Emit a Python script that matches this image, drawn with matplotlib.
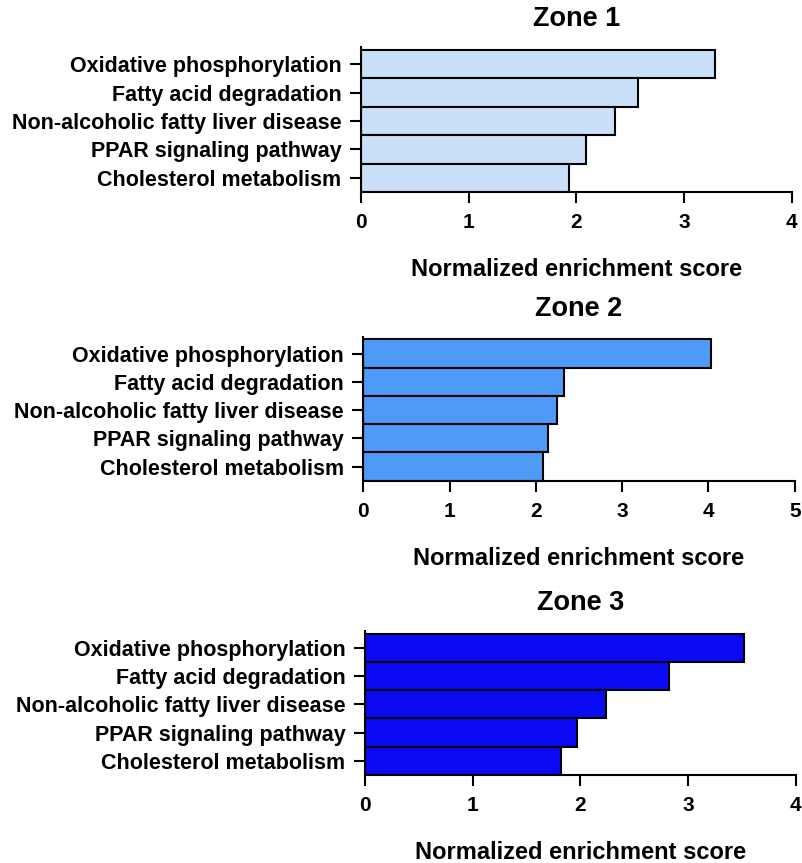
import matplotlib.pyplot as plt

plt.rcParams['font.family'] = ['Liberation Sans', 'DejaVu Sans']
plt.rcParams['font.weight'] = 'bold'

pathways = ['Oxidative phosphorylation', 'Fatty acid degradation',
            'Non-alcoholic fatty liver disease', 'PPAR signaling pathway',
            'Cholesterol metabolism']
zone1 = [3.29, 2.57, 2.36, 2.09, 1.93]
zone2 = [4.03, 2.32, 2.25, 2.14, 2.08]
zone3 = [3.52, 2.82, 2.24, 1.97, 1.82]
titles = ['Zone 1', 'Zone 2', 'Zone 3']
colors = ['#CADFF8', '#4E9BF7', '#0A0AF5']
xmax = [4, 5, 4]

fig = plt.figure(figsize=(8.02, 8.63), dpi=100)
# axes boxes in figure fractions
boxes = [[0.450, 0.7775, 0.537, 0.168],
         [0.453, 0.443, 0.538, 0.167],
         [0.455, 0.102, 0.537, 0.167]]

for vals, t, c, xm, b in zip([zone1, zone2, zone3], titles, colors, xmax, boxes):
    ax = fig.add_axes(b)
    y = list(range(len(pathways)))[::-1]
    ax.barh(y, vals, height=1.0, color=c, edgecolor='black', linewidth=1.5)
    ax.set_xlim(0, xm)
    ax.set_ylim(-0.5, 4.6)
    ax.set_yticks(y)
    ax.set_yticklabels(pathways, fontsize=15.5, fontweight='bold')
    ax.set_xticks(range(xm + 1))
    ax.tick_params(axis='x', labelsize=15, width=1.5, length=8, pad=7)
    ax.tick_params(axis='y', width=1.5, length=8, pad=6)
    for s in ['top', 'right']:
        ax.spines[s].set_visible(False)
    for s in ['left', 'bottom']:
        ax.spines[s].set_linewidth(1.5)
    ax.set_xlabel('Normalized enrichment score', fontsize=17, fontweight='bold', labelpad=19)
    ax.set_title(t, fontsize=19.5, fontweight='bold', pad=15)

fig.savefig('out.png', dpi=100)
